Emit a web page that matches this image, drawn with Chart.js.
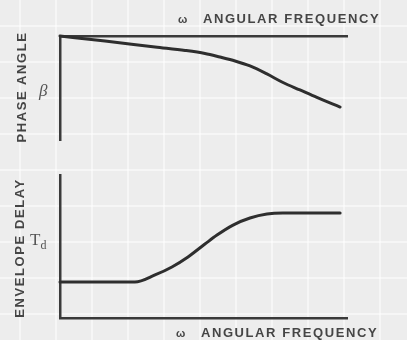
<!DOCTYPE html>
<html><head><meta charset="utf-8">
<script src="https://cdn.jsdelivr.net/npm/chart.js@4/dist/chart.umd.min.js"></script>
<style>
html,body{margin:0;padding:0;}
body{width:407px;height:340px;position:relative;overflow:hidden;
 background-color:#ededed;
 background-image:
  repeating-linear-gradient(90deg, transparent 0px, transparent 19px, rgba(255,255,255,0.5) 19px, rgba(255,255,255,0.5) 21px, transparent 21px, transparent 36px),
  repeating-linear-gradient(0deg, transparent 0px, transparent 25px, rgba(255,255,255,0.5) 25px, rgba(255,255,255,0.5) 27px, transparent 27px, transparent 36px);
 font-family:"Liberation Sans",Arial,sans-serif;}
.box{position:absolute;left:0;width:407px;height:170px;}
.t{position:absolute;color:#454545;font-weight:bold;font-size:13px;letter-spacing:1.6px;white-space:nowrap;}
.rot{transform-origin:center center;transform:translate(-50%,-50%) rotate(-90deg);}
.sym{position:absolute;color:#555;font-family:"Liberation Serif","DejaVu Serif",serif;white-space:nowrap;}
</style></head>
<body>
<div class="box" style="top:0"><canvas id="c1" width="407" height="170"></canvas></div>
<div class="box" style="top:170px"><canvas id="c2" width="407" height="170"></canvas></div>

<div class="t" style="left:178px;top:11px;"><span style="font-size:11px;margin-right:14px;">ω</span>ANGULAR FREQUENCY</div>
<div class="t" style="left:176px;top:325px;"><span style="font-size:11px;margin-right:14px;">ω</span>ANGULAR FREQUENCY</div>
<div class="t rot" style="left:21px;top:87px;">PHASE ANGLE</div>
<div class="t rot" style="left:19px;top:248px;">ENVELOPE DELAY</div>
<div class="sym" style="left:39px;top:81px;font-size:17px;font-style:italic;">β</div>
<div class="sym" style="left:30px;top:230px;font-size:17px;">T<sub style="font-size:12px;">d</sub></div>

<script>
// angular frequency (arbitrary units, 0..10)
const phaseOmega = [0, 1.57, 3.31, 4.36, 5.05, 5.57, 6.10, 6.62, 7.21, 7.77, 8.36, 8.95, 9.76];
// phase angle β (arbitrary units, 0 at top, negative downward)
const phaseAngle = [0, -0.48, -1.06, -1.39, -1.68, -2.02, -2.40, -2.88, -3.65, -4.47, -5.19, -5.91, -6.83];
// angular frequency for envelope delay curve
const delayOmega = [0, 2.61, 3.31, 3.90, 4.46, 5.05, 5.47, 6.03, 6.62, 7.21, 7.77, 9.76];
// envelope delay Td (arbitrary units)
const envelopeDelay = [2.52, 2.52, 3.01, 3.57, 4.27, 5.17, 5.80, 6.50, 6.99, 7.27, 7.34, 7.34];

const axisColor = '#3a3a3a';
const lineColor = '#2e2e2e';

function pts(xs, ys){ return xs.map((x,i)=>({x:x,y:ys[i]})); }

function axis(pos, min, max){
  return {
    type:'linear', position:pos, min:min, max:max,
    ticks:{display:false}, title:{display:false},
    grid:{display:false, drawTicks:false},
    border:{display:true, color:axisColor, width:2.5}
  };
}

function make(id, data, yMin, yMax, xPos, padding){
  return new Chart(document.getElementById(id), {
    type:'line',
    data:{datasets:[{data:data, borderColor:lineColor, borderWidth:3,
      pointRadius:0, cubicInterpolationMode:'monotone', borderCapStyle:'round',
      borderJoinStyle:'round', fill:false, clip:false}]},
    options:{
      responsive:false, animation:false, events:[],
      layout:{padding:padding},
      plugins:{legend:{display:false}, tooltip:{enabled:false}},
      scales:{
        x:axis(xPos, 0, 10),
        y:axis('left', yMin, yMax)
      }
    }
  });
}

make('c1', pts(phaseOmega, phaseAngle), -10, 0, 'top', {left:60, right:60, top:36, bottom:30});
make('c2', pts(delayOmega, envelopeDelay), 0, 10, 'bottom', {left:60, right:60, top:5, bottom:22});
</script>
</body></html>
